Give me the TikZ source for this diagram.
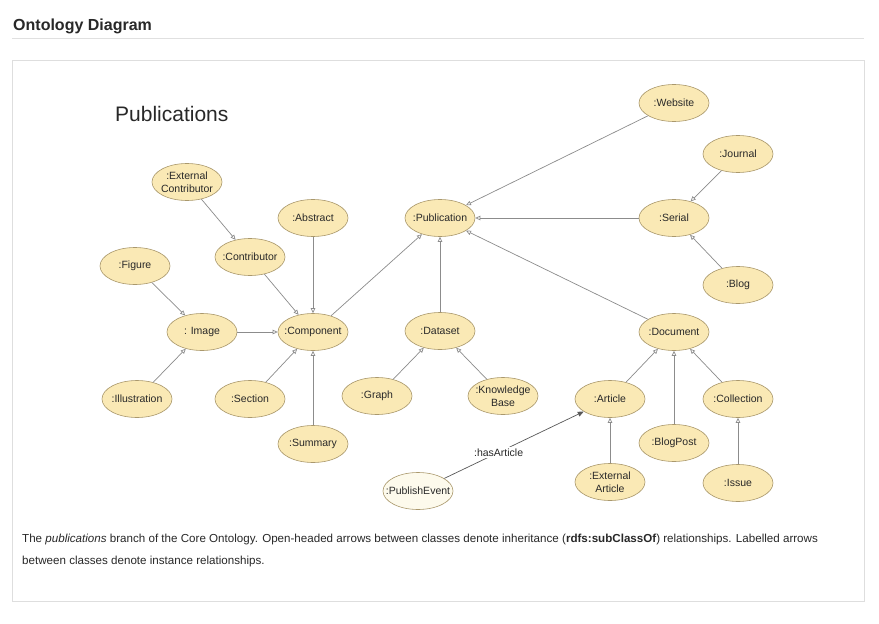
\documentclass[tikz,border=0pt]{standalone}
\usepackage{fontspec}
\setmainfont{Liberation Sans}
\usepackage{xcolor}
\usetikzlibrary{arrows.meta}
\usetikzlibrary{shapes.geometric}

\definecolor{classfill}{RGB}{250,233,181}
\definecolor{classline}{RGB}{170,152,108}
\definecolor{eventfill}{RGB}{253,250,236}
\definecolor{edgegray}{RGB}{140,140,140}
\definecolor{textgray}{RGB}{40,40,40}

\begin{document}
\begin{tikzpicture}[x=1pt, y=-1pt,
    cls/.style={ellipse, draw=classline, fill=classfill, line width=0.6pt,
        minimum width=70pt, minimum height=37pt, inner xsep=-8pt, inner ysep=0pt,
        align=center, text=textgray, font=\fontsize{10.5}{13.5}\selectfont},
    sub/.style={draw=edgegray, line width=0.7pt, -{Triangle[open, length=5pt, width=4.5pt]}},
    rel/.style={draw=black!65, line width=0.7pt, -{Triangle[length=6pt, width=5pt]}}]
    \fill[white] (0,0) rectangle (879,624);
    \useasboundingbox (0,0) rectangle (879,624);

    \node[anchor=base west, inner sep=0pt, text=textgray, font=\bfseries\fontsize{16}{19}\selectfont] (head) at (13,30) {Ontology Diagram};
    \draw[black!12] (12,38) -- (864,38);
    \draw[black!13, line width=0.8pt] (12,60) rectangle (864,601);
    \node[anchor=base west, inner sep=0pt, text=textgray, font=\fontsize{21}{25}\selectfont] (title) at (115,121) {Publications};

    \node[cls] (website) at (674,103) {:Website};
    \node[cls] (journal) at (738,154) {:Journal};
    \node[cls] (serial) at (674,218) {:Serial};
    \node[cls] (blog) at (738,285) {:Blog};
    \node[cls] (publication) at (440,218) {:Publication};
    \node[cls] (extcontrib) at (187,182) {:External\\Contributor};
    \node[cls] (abstract) at (313,218) {:Abstract};
    \node[cls] (contributor) at (250,257) {:Contributor};
    \node[cls] (figure) at (135,266) {:Figure};
    \node[cls] (image) at (202,332) {: Image};
    \node[cls] (component) at (313,332) {:Component};
    \node[cls] (dataset) at (440,331) {:Dataset};
    \node[cls] (document) at (674,332) {:Document};
    \node[cls] (illustration) at (137,399) {:Illustration};
    \node[cls] (section) at (250,399) {:Section};
    \node[cls] (graph) at (377,396) {:Graph};
    \node[cls] (kbase) at (503,396) {:Knowledge\\Base};
    \node[cls] (article) at (610,399) {:Article};
    \node[cls] (blogpost) at (674,443) {:BlogPost};
    \node[cls] (collection) at (738,399) {:Collection};
    \node[cls] (summary) at (313,444) {:Summary};
    \node[cls] (extarticle) at (610,482) {:External\\Article};
    \node[cls] (issue) at (738,483) {:Issue};
    \node[cls, fill=eventfill] (pubevent) at (418,491) {:PublishEvent};

    \draw[sub] (website) -- (publication);
    \draw[sub] (serial) -- (publication);
    \draw[sub] (journal) -- (serial);
    \draw[sub] (blog) -- (serial);
    \draw[sub] (component) -- (publication);
    \draw[sub] (dataset) -- (publication);
    \draw[sub] (document) -- (publication);
    \draw[sub] (extcontrib) -- (contributor);
    \draw[sub] (contributor) -- (component);
    \draw[sub] (abstract) -- (component);
    \draw[sub] (image) -- (component);
    \draw[sub] (section) -- (component);
    \draw[sub] (summary) -- (component);
    \draw[sub] (figure) -- (image);
    \draw[sub] (illustration) -- (image);
    \draw[sub] (graph) -- (dataset);
    \draw[sub] (kbase) -- (dataset);
    \draw[sub] (article) -- (document);
    \draw[sub] (blogpost) -- (document);
    \draw[sub] (collection) -- (document);
    \draw[sub] (extarticle) -- (article);
    \draw[sub] (issue) -- (collection);
    \draw[rel] (pubevent) -- node[pos=0.39, fill=white, inner sep=2pt, text=textgray, font=\fontsize{10.5}{13}\selectfont] (hasarticle) {:hasArticle} (article);

    \node[anchor=base west, inner sep=0pt, text=textgray, font=\fontsize{11.6}{14}\selectfont] (caption1) at (22,542) {The \textit{publications} branch of the Core Ontology. Open-headed arrows between classes denote inheritance (\textbf{rdfs:subClassOf}) relationships. Labelled arrows};
    \node[anchor=base west, inner sep=0pt, text=textgray, font=\fontsize{11.6}{14}\selectfont] (caption2) at (22,564) {between classes denote instance relationships.};
\end{tikzpicture}
\end{document}
